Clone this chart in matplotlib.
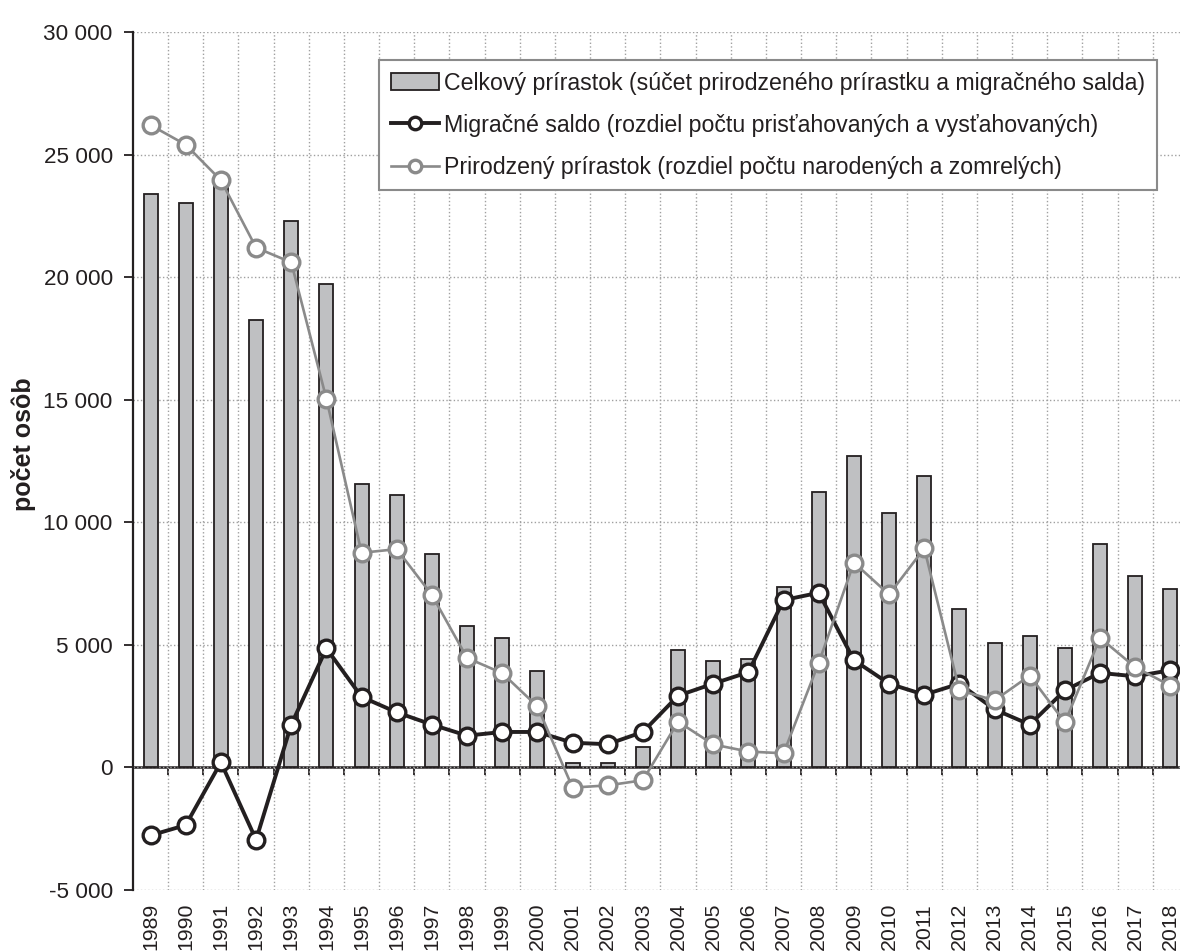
import numpy as np
import matplotlib
matplotlib.use("Agg")
import matplotlib.pyplot as plt

plt.rcParams['font.family'] = ['Liberation Sans', 'DejaVu Sans']

years = [str(y) for y in range(1989, 2019)]

celkovy = [23390, 23020, 23800, 18250, 22300, 19730, 11550, 11100, 8720, 5750,
           5280, 3920, 190, 190, 830, 4780, 4330, 4420, 7370, 11240,
           12710, 10360, 11870, 6450, 5060, 5360, 4850, 9120, 7790, 7270]

migracne = [-2780, -2360, 200, -2960, 1740, 4850, 2870, 2240, 1740, 1290,
            1440, 1440, 1000, 940, 1440, 2920, 3410, 3880, 6820, 7120,
            4370, 3410, 2960, 3410, 2360, 1740, 3140, 3850, 3710, 3960]

prirodzeny = [26200, 25400, 23950, 21200, 20600, 15030, 8750, 8900, 7030, 4460,
              3840, 2480, -830, -740, -530, 1860, 930, 640, 570, 4260,
              8350, 7050, 8930, 3140, 2730, 3740, 1830, 5280, 4080, 3330]

labels = [
    "Celkový prírastok (súčet prirodzeného prírastku a migračného salda)",
    "Migračné saldo (rozdiel počtu prisťahovaných a vysťahovaných)",
    "Prirodzený prírastok (rozdiel počtu narodených a zomrelých)",
]

dark = "#231f20"
grey = "#8a8a8a"
ymin, ymax = -5000, 30000

fig = plt.figure(figsize=(11.8, 9.52), dpi=100)
ax = fig.add_axes([133 / 1180, 1 - 889.8 / 952, 1055 / 1180, (889.8 - 32) / 952])

x = np.arange(len(years))
bars = ax.bar(x, celkovy, width=0.4, color="#bfc0c2", edgecolor=dark, linewidth=1.3,
              zorder=2, label=labels[0])
l_mig, = ax.plot(x, migracne, color=dark, lw=2.8, marker="o", ms=12, mfc="white",
                 mec=dark, mew=2.4, zorder=3, label=labels[1])
l_pri, = ax.plot(x, prirodzeny, color=grey, lw=1.9, marker="o", ms=12, mfc="white",
                 mec=grey, mew=2.4, zorder=4, label=labels[2])

ax.set_xlim(-0.5, len(years) - 0.5)
ax.set_ylim(ymin, ymax)
ax.set_yticks(np.arange(ymin, ymax + 1, 5000))
ax.set_yticklabels([f"{v:,.0f}".replace(",", " ") for v in np.arange(ymin, ymax + 1, 5000)])
ax.set_xticks(x)
ax.set_xticklabels(years, rotation=90, va="top", ha="center")
ax.set_xticks(x[:-1] + 0.5, minor=True)

ax.tick_params(axis="x", which="both", length=0, labelsize=15.3, pad=9.5,
               labelcolor=dark)
ax.tick_params(axis="y", length=6.5, width=1.3, color=dark, labelsize=16.2,
               pad=8, labelcolor=dark)
ax.grid(axis="y", which="major", color="#a0a0a0", linestyle=":", lw=1)
ax.grid(axis="x", which="minor", color="#a0a0a0", linestyle=":", lw=1)
ax.set_axisbelow(True)

for side in ["top", "right", "bottom"]:
    ax.spines[side].set_visible(False)
ax.spines["left"].set_color(dark)
ax.spines["left"].set_linewidth(1.6)

# zero line with tick marks between categories
zero = ax.secondary_xaxis((0 - ymin) / (ymax - ymin))
zero.set_xticks(x[:-1] + 0.5)
zero.tick_params(direction="out", length=6, width=1.3, color=dark, labelbottom=False)
zero.spines["bottom"].set_color(dark)
zero.spines["bottom"].set_linewidth(1.8)

fig.text(24 / 1180, 1 - 444 / 952, "počet osôb", rotation=90, ha="center",
         va="center", fontsize=18, fontweight="bold", color=dark)

leg = ax.legend([bars, l_mig, l_pri], labels,
                loc="upper left", bbox_to_anchor=(379 / 1180, 1 - 60 / 952),
                bbox_transform=fig.transFigure, borderaxespad=0, fontsize=16.7,
                frameon=True, fancybox=False, framealpha=1, edgecolor=grey,
                handlelength=2.1, handletextpad=0.2, labelspacing=0.82,
                borderpad=0.5, markerscale=0.75)
leg.get_frame().set_linewidth(1.5)
for t in leg.get_texts():
    t.set_color(dark)

fig.savefig("out.png", dpi=100)
